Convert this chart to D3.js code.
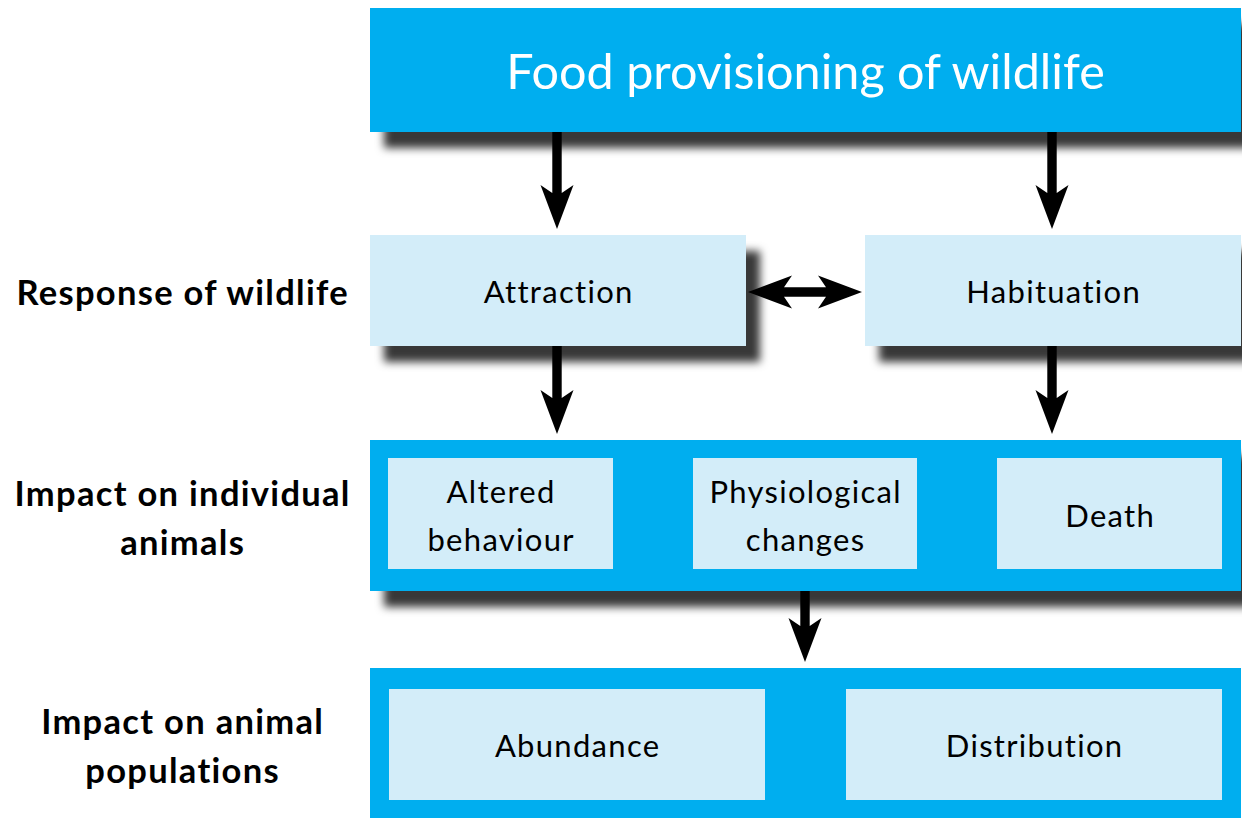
<!DOCTYPE html>
<html lang="en">
<head>
  <meta charset="UTF-8">
  <title>Food provisioning of wildlife</title>
  <script src="https://d3js.org/d3.v7.min.js"></script>
  <style>
    body {
      margin: 0;
      background: #fff;
      font-family: Lato, "Open Sans", sans-serif;
    }
  </style>
</head>
<body>
  <div id="chart"></div>

  <script>
    // diagram content
    const title = "Food provisioning of wildlife";
    const rowLabels = [
      ["Response of wildlife"],
      ["Impact on individual", "animals"],
      ["Impact on animal", "populations"]
    ];
    const responses = [["Attraction"], ["Habituation"]];
    const individualImpacts = [["Altered", "behaviour"], ["Physiological", "changes"], ["Death"]];
    const populationImpacts = [["Abundance"], ["Distribution"]];
    // arrows: [from, to]
    const links = [
      ["title", "Attraction"],
      ["title", "Habituation"],
      ["Attraction", "individual"],
      ["Habituation", "individual"],
      ["individual", "population"]
    ];

    const W = 1242, H = 818;
    const dark = "#00aeef", light = "#d3edf9";

    // layout (pixels)
    const rowY = {
      title: [8, 132],
      response: [235, 346],
      individual: [440, 591],
      population: [668, 818]
    };
    const outerX = [370, 1241];
    const responseX = [[370, 746], [865, 1241]];
    const individualX = [[388, 613], [693, 917], [997, 1222]];
    const individualInnerY = [458, 569];
    const populationX = [[389, 765], [846, 1222]];
    const populationInnerY = [689, 800];
    const arrowX = {Attraction: 557, Habituation: 1052};

    const svg = d3.select("#chart").append("svg")
      .attr("width", W).attr("height", H);

    const defs = svg.append("defs");
    defs.append("filter").attr("id", "shadow")
      .attr("x", "-10%").attr("y", "-30%").attr("width", "130%").attr("height", "180%")
      .append("feDropShadow")
      .attr("dx", 14).attr("dy", 16).attr("stdDeviation", 4)
      .attr("flood-color", "#000").attr("flood-opacity", 0.78);

    function box(x0, x1, y0, y1, fill, shadow) {
      const r = svg.append("rect")
        .attr("x", x0).attr("y", y0)
        .attr("width", x1 - x0).attr("height", y1 - y0)
        .attr("fill", fill);
      if (shadow) r.attr("filter", "url(#shadow)");
      return r;
    }

    function label(lines, cx, cy, opts) {
      const size = opts.size, lh = opts.lh || size * 1.6;
      const ls = opts.ls || 0;
      const t = svg.append("text")
        .attr("text-anchor", "middle")
        .attr("font-size", size)
        .attr("font-weight", opts.weight || "normal")
        .attr("letter-spacing", ls)
        .attr("fill", opts.fill || "#000");
      lines.forEach((s, i) => {
        t.append("tspan")
          .attr("x", cx + ls / 2)
          .attr("y", cy + (i - (lines.length - 1) / 2) * lh)
          .attr("dy", "0.35em")
          .text(s);
      });
    }

    // arrow path with barbed heads
    function arrowPath(x0, y0, x1, y1, heads) {
      const len = Math.hypot(x1 - x0, y1 - y0);
      const sw = 4.7, hw = 16.5, hl = 44, notch = 8;
      const p = d3.path();
      // built along +x then rotated
      const pts = [];
      if (heads.start) {
        pts.push([0, 0], [hl, -hw], [hl - notch, -sw]);
      } else {
        pts.push([0, -sw]);
      }
      if (heads.end) {
        pts.push([len - hl + notch, -sw], [len - hl, -hw], [len, 0], [len - hl, hw], [len - hl + notch, sw]);
      } else {
        pts.push([len, -sw], [len, sw]);
      }
      if (heads.start) {
        pts.push([hl - notch, sw], [hl, hw]);
      } else {
        pts.push([0, sw]);
      }
      const a = Math.atan2(y1 - y0, x1 - x0);
      const c = Math.cos(a), s = Math.sin(a);
      pts.forEach(([u, v], i) => {
        const X = x0 + u * c - v * s, Y = y0 + u * s + v * c;
        i ? p.lineTo(X, Y) : p.moveTo(X, Y);
      });
      p.closePath();
      return p.toString();
    }

    // boxes with shadows
    box(outerX[0], outerX[1], rowY.title[0], rowY.title[1], dark, true);
    responses.forEach((r, i) =>
      box(responseX[i][0], responseX[i][1], rowY.response[0], rowY.response[1], light, true));
    box(outerX[0], outerX[1], rowY.individual[0], rowY.individual[1], dark, true);
    box(outerX[0], outerX[1], rowY.population[0], rowY.population[1] + 2, dark, false);

    individualImpacts.forEach((r, i) =>
      box(individualX[i][0], individualX[i][1], individualInnerY[0], individualInnerY[1], light, false));
    populationImpacts.forEach((r, i) =>
      box(populationX[i][0], populationX[i][1], populationInnerY[0], populationInnerY[1], light, false));

    // texts
    label([title], (outerX[0] + outerX[1]) / 2, 72, {size: 48.5, fill: "#fff"});
    const boxFont = {size: 31, ls: 1.3};
    responses.forEach((r, i) =>
      label(r, (responseX[i][0] + responseX[i][1]) / 2, 292, boxFont));
    individualImpacts.forEach((r, i) =>
      label(r, (individualX[i][0] + individualX[i][1]) / 2, 516, {...boxFont, lh: 48}));
    populationImpacts.forEach((r, i) =>
      label(r, (populationX[i][0] + populationX[i][1]) / 2, 746, boxFont));

    const labelRowsY = [293, 518, 746];
    rowLabels.forEach((r, i) =>
      label(r, 182, labelRowsY[i], {size: 34.5, ls: 1.3, weight: "bold", lh: 49}));

    // arrows
    const gap = 6;
    const ends = {
      title: rowY.title,
      Attraction: rowY.response,
      Habituation: rowY.response,
      individual: rowY.individual,
      population: rowY.population
    };
    links.forEach(([a, b]) => {
      const x = arrowX[a] || arrowX[b] || 805;
      svg.append("path")
        .attr("d", arrowPath(x, ends[a][1], x, ends[b][0] - gap, {end: true}))
        .attr("fill", "#000");
    });
    // two-way arrow between responses
    svg.append("path")
      .attr("d", arrowPath(responseX[0][1] + 2, 292, responseX[1][0] - 3, 292, {start: true, end: true}))
      .attr("fill", "#000");
  </script>
</body>
</html>
